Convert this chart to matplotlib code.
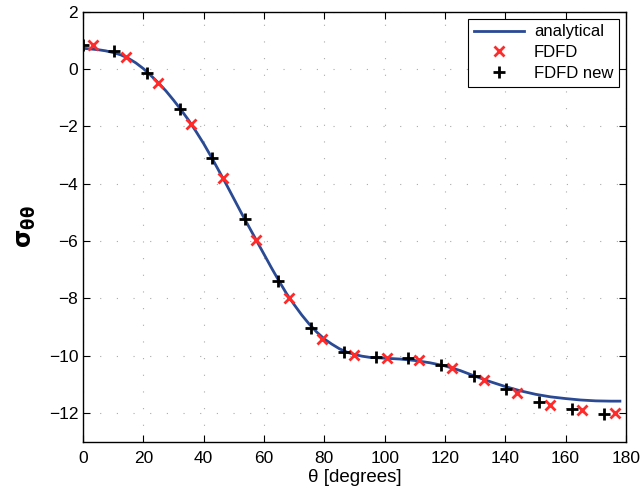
import matplotlib
matplotlib.use("Agg")
import matplotlib.pyplot as plt

# analytical curve samples
theta_an = [1, 5, 7.5, 10, 12.5, 15, 17.5, 20, 22.5, 25, 27.5, 30, 32.5, 35, 37.5, 40,
            42.5, 45, 47.5, 50, 52.5, 55, 57.5, 60, 62.5, 65, 67.5, 70, 72.5, 75, 77.5,
            80, 82.5, 85, 87.5, 90, 92.5, 95, 100, 105, 110, 115, 120, 125, 130, 135,
            140, 145, 150, 155, 160, 165, 170, 175, 178]
sigma_an = [0.72, 0.68, 0.64, 0.58, 0.50, 0.38, 0.22, 0.02, -0.22, -0.48, -0.76, -1.08,
            -1.42, -1.78, -2.18, -2.60, -3.06, -3.54, -4.02, -4.52, -5.02, -5.50, -5.98,
            -6.46, -6.94, -7.40, -7.84, -8.22, -8.58, -8.90, -9.18, -9.42, -9.60, -9.76,
            -9.88, -9.96, -10.02, -10.06, -10.09, -10.12, -10.17, -10.25, -10.36, -10.52,
            -10.72, -10.91, -11.08, -11.23, -11.35, -11.44, -11.50, -11.55, -11.58,
            -11.59, -11.59]

# FDFD (red x)
theta_fdfd = [3.3, 14.3, 24.9, 35.8, 46.4, 57.3, 68.3, 79.2, 89.8, 100.8, 111.4, 122.3,
              132.9, 143.9, 154.8, 165.4, 176.3]
sigma_fdfd = [0.86, 0.44, -0.50, -1.90, -3.79, -5.96, -7.98, -9.42, -9.98, -10.08, -10.15,
              -10.43, -10.85, -11.30, -11.72, -11.90, -12.00]

# FDFD new (black +)
theta_new = [0.0, 10.3, 21.2, 32.2, 42.8, 53.7, 64.6, 75.6, 86.5, 97.1, 107.7, 118.7,
             129.6, 140.2, 151.1, 162.1, 172.7]
sigma_new = [0.86, 0.62, -0.12, -1.38, -3.09, -5.22, -7.39, -9.03, -9.87, -10.05, -10.08,
             -10.33, -10.71, -11.17, -11.62, -11.86, -12.04]

xticks = [0, 20, 40, 60, 80, 100, 120, 140, 160, 180]
yticks = [2, 0, -2, -4, -6, -8, -10, -12]

plt.rcParams['font.family'] = ['Liberation Sans', 'DejaVu Sans']

fig = plt.figure(figsize=(6.42, 4.95), dpi=100)
ax = fig.add_axes([0.1293, 0.108, 0.8457, 0.868])

ax.plot(theta_an, sigma_an, color='#2a4a94', lw=2.0, label='analytical', zorder=2)
ax.plot(theta_fdfd, sigma_fdfd, linestyle='none', marker='x', color='#ff2a2a',
        ms=7, mew=2.0, label='FDFD', zorder=3)
ax.plot(theta_new, sigma_new, linestyle='none', marker='+', color='black',
        ms=9, mew=2.0, label='FDFD new', zorder=4)

ax.set_xlim(0, 180)
ax.set_ylim(-13, 2)
ax.set_xticks(xticks)
ax.set_yticks(yticks)
ax.tick_params(direction='in', top=True, right=True, labelsize=12.5, length=5, width=0.8)
ax.tick_params(axis='x', pad=7)
ax.grid(True, color='#aaaaaa', linestyle=(0, (1, 14)), linewidth=0.8)
for s in ax.spines.values():
    s.set_linewidth(1.0)

ax.set_xlabel('θ [degrees]', fontsize=13.5, labelpad=2)
ax.set_ylabel(r'$\mathbf{\sigma}_{\mathbf{\theta\theta}}$', fontsize=17, labelpad=8)

leg = ax.legend(loc='upper right', fontsize=12, frameon=True, fancybox=False,
                edgecolor='black', framealpha=1, handlelength=3.0, borderpad=0.35,
                labelspacing=0.35, handletextpad=0.6, borderaxespad=0.4)
leg.get_frame().set_linewidth(0.8)

fig.savefig('out.png', dpi=100)
